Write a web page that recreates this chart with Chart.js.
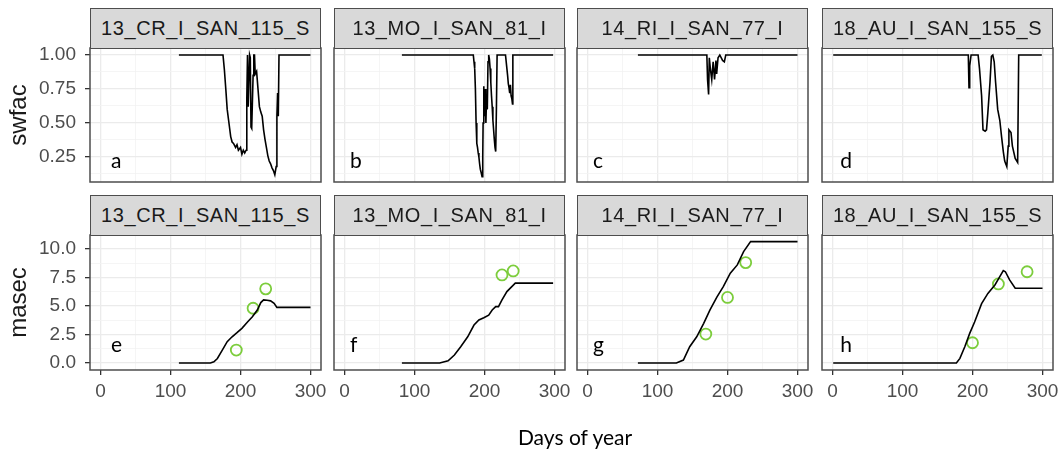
<!DOCTYPE html>
<html>
<head>
<meta charset="utf-8">
<script src="https://cdn.jsdelivr.net/npm/chart.js@4.4.0/dist/chart.umd.min.js"></script>
<style>
html, body { margin: 0; padding: 0; background: #fff; }
#fig { position: relative; width: 1063px; height: 450px; overflow: hidden; background: #fff; }
#fig canvas { position: absolute; z-index: 1; }
.strip { position: absolute; z-index: 2; box-sizing: border-box; height: 41px; background: #d9d9d9;
  border: 1.5px solid #4d4d4d; color: #1a1a1a; font: 20px 'Liberation Sans', Arial, sans-serif;
  text-align: center; line-height: 38px; letter-spacing: 0.6px; white-space: nowrap; }
.xtitle { position: absolute; z-index: 2; left: 475px; top: 424px; width: 200px; text-align: center;
  font: 21px Lato, 'Open Sans', sans-serif; color: #000; }
</style>
</head>
<body>
<div id="fig">
  <div class="xtitle">Days of year</div>
</div>
<script>
const panelNames = ['13_CR_I_SAN_115_S', '13_MO_I_SAN_81_I', '14_RI_I_SAN_77_I', '18_AU_I_SAN_155_S'];
const topLetters = ['a', 'b', 'c', 'd'];
const bottomLetters = ['e', 'f', 'g', 'h'];
const xTickLabels = [0, 100, 200, 300];
const swfacTickLabels = [0.25, 0.5, 0.75, 1];
const masecTickLabels = [0, 2.5, 5, 7.5, 10];

// swfac, top row
const swfacDaysA = [112,175,177,179,181,183,186,188,190,193,195,197,200,202,204,206,208,209,210,211,212,213,214,215,216,218,219,220,221,223,225,227,229,231,233,235,237,239,241,243,245,247,249,251,252,253,254,255,300];
const swfacA = [1,1,0.89,0.75,0.6,0.52,0.4,0.36,0.35,0.32,0.34,0.3,0.32,0.27,0.3,0.28,0.3,0.68,1,0.62,0.62,1,0.98,0.47,0.46,0.85,1,1,0.86,0.88,0.75,0.62,0.58,0.55,0.45,0.38,0.32,0.26,0.22,0.2,0.17,0.15,0.12,0.18,0.55,0.72,0.55,1,1];

const swfacDaysB = [82,184,185,186,187,188,189,190,191,192,193,194,195,196.5,197.5,198,199,200,201,202,203,204,205,206,207,208,209,210,211,212,213,214,215,216,217,218,230,232,233,234,235,236,237,238,239,240,240.5,298];
const swfacB = [1,1,0.95,0.9,0.75,0.5,0.35,0.32,0.28,0.25,0.2,0.16,0.14,0.105,0.25,0.5,0.77,0.55,0.75,0.5,0.7,0.6,0.95,1,0.97,0.9,0.8,0.7,0.62,0.52,0.45,0.38,0.32,0.29,0.6,1,1,0.9,0.85,0.79,0.76,0.72,0.78,0.7,0.68,0.64,1,1];

const swfacDaysC = [72,169,170.5,171.5,173,174,175.5,177.5,179.5,181.5,183.5,184.5,186.5,189,193,195.5,197.5,300];
const swfacC = [1,1,1,0.82,0.71,0.98,0.9,0.82,0.95,0.82,0.96,0.86,0.98,1,0.96,0.95,1,1];

const swfacDaysD = [1,194,195,196,198,208,210,213,215,218,220,222,225,227,229,231,233,236,239,241.5,244,246,249,251,252,255,257,261,264.5,266,299];
const swfacD = [1,1,0.76,0.92,1,1,0.9,0.7,0.45,0.44,0.45,0.58,0.8,0.99,1,0.95,0.8,0.6,0.52,0.4,0.29,0.22,0.18,0.33,0.45,0.43,0.33,0.24,0.21,1,1];

// masec, bottom row (simulated line + observed points)
const masecDaysE = [112,157,162,167,174,181,188,195,202,210,217,224,229,233,238,243,248,252,300];
const masecE = [0,0,0.11,0.4,1.14,1.87,2.3,2.66,3.04,3.6,4.06,4.65,5.3,5.53,5.5,5.45,5.23,4.88,4.88];
const obsDaysE = [194, 218, 236];
const obsE = [1.14, 4.8, 6.5];

const masecDaysF = [82,136,148,157,166,176,185,192,199,206,211,216,220,225,232,239,244,298];
const masecF = [0,0,0.2,0.7,1.43,2.3,3.33,3.77,3.97,4.2,4.65,4.94,4.94,5.53,6.26,6.7,7.0,7.0];
const obsDaysF = [225, 241];
const obsF = [7.72, 8.07];

const masecDaysG = [72,127,137,146,156,166,175,185,194,204,214,223,233,300];
const masecG = [0,0,0.26,1.43,2.3,3.48,4.65,5.8,6.7,7.87,8.6,9.77,10.64,10.64];
const obsDaysG = [169, 200, 226];
const obsG = [2.54, 5.75, 8.8];

const masecDaysH = [1,177,182,189,196,203,213,222,232,239,244,247,253,261,265,300];
const masecH = [0,0,0.41,1.43,2.6,3.6,5.2,6.1,6.84,7.57,8.1,8.0,7.28,6.55,6.55,6.55];
const obsDaysH = [200, 237, 278];
const obsH = [1.78, 6.93, 8.0];

const topSeries = [[swfacDaysA, swfacA], [swfacDaysB, swfacB], [swfacDaysC, swfacC], [swfacDaysD, swfacD]];
const bottomSeries = [
  [masecDaysE, masecE, obsDaysE, obsE],
  [masecDaysF, masecF, obsDaysF, obsF],
  [masecDaysG, masecG, obsDaysG, obsG],
  [masecDaysH, masecH, obsDaysH, obsH]
];

Chart.defaults.font.family = "'Liberation Sans', Arial, sans-serif";

const plotLefts = [90, 334, 577, 822];
const plotW = 231;
const padL = 90, padT = 26, padR = 24, padB = 50;
const letterX = [15, 8, 8, 11];
const rows = [
  { stripTop: 8, plotTop: 48, plotH: 134, ymin: 0.066, ymax: 1.0515, step: 0.125, ticks: swfacTickLabels, digits: 2, title: 'swfac', letterY: 0.17, letters: topLetters, showX: false },
  { stripTop: 195, plotTop: 235, plotH: 135, ymin: -0.61, ymax: 11.22, step: 1.25, ticks: masecTickLabels, digits: 1, title: 'masec', letterY: 1.0, letters: bottomLetters, showX: true }
];

const toXY = (days, vals) => days.map((d, i) => ({ x: d, y: vals[i] }));

const panelBorder = {
  id: 'panelBorder',
  afterDraw(chart) {
    const { ctx, chartArea: a } = chart;
    ctx.save();
    ctx.strokeStyle = '#4d4d4d';
    ctx.lineWidth = 1.5;
    ctx.strokeRect(a.left, a.top, a.right - a.left, a.bottom - a.top);
    ctx.restore();
  }
};

const panelLetter = {
  id: 'panelLetter',
  afterDatasetsDraw(chart, args, opts) {
    const { ctx, scales: { x, y } } = chart;
    ctx.save();
    ctx.font = "21px Lato, 'Open Sans', sans-serif";
    ctx.fillStyle = '#000';
    ctx.textAlign = 'left';
    ctx.textBaseline = 'alphabetic';
    ctx.fillText(opts.text, x.getPixelForValue(opts.x), y.getPixelForValue(opts.y));
    ctx.restore();
  }
};

const fig = document.getElementById('fig');

rows.forEach((row, r) => {
  plotLefts.forEach((left, c) => {
    const strip = document.createElement('div');
    strip.className = 'strip';
    strip.style.left = left + 'px';
    strip.style.top = row.stripTop + 'px';
    strip.style.width = plotW + 'px';
    strip.style.height = (row.plotTop - row.stripTop + 1) + 'px';
    strip.textContent = panelNames[c];
    fig.appendChild(strip);

    const canvas = document.createElement('canvas');
    const w = padL + plotW + padR, h = padT + row.plotH + padB;
    canvas.width = w; canvas.height = h;
    canvas.style.width = w + 'px'; canvas.style.height = h + 'px';
    canvas.style.left = (left - padL) + 'px';
    canvas.style.top = (row.plotTop - padT) + 'px';
    fig.appendChild(canvas);

    const showY = c === 0;
    const datasets = [];
    if (r === 0) {
      const [days, vals] = topSeries[c];
      datasets.push({ data: toXY(days, vals), showLine: true, borderColor: '#000', borderWidth: 1.6, pointRadius: 0, tension: 0 });
    } else {
      const [days, vals, od, ov] = bottomSeries[c];
      datasets.push({ data: toXY(days, vals), showLine: true, borderColor: '#000', borderWidth: 1.6, pointRadius: 0, tension: 0 });
      datasets.push({ data: toXY(od, ov), showLine: false, pointRadius: 5.5, pointBorderWidth: 1.8,
        pointBorderColor: '#7ccd3c', pointBackgroundColor: 'rgba(0,0,0,0)' });
    }

    const xMajor = v => xTickLabels.includes(v);
    const yMajor = v => row.ticks.includes(v);

    new Chart(canvas.getContext('2d'), {
      type: 'scatter',
      data: { datasets },
      options: {
        responsive: false,
        animation: false,
        devicePixelRatio: 1,
        layout: { padding: { left: 0, top: padT, right: padR, bottom: 0 } },
        plugins: {
          legend: { display: false },
          tooltip: { enabled: false },
          panelLetter: { text: row.letters[c], x: letterX[c], y: row.letterY }
        },
        scales: {
          x: {
            type: 'linear', min: -15, max: 315,
            afterFit: s => { s.height = padB; },
            border: { display: false },
            grid: {
              color: ctx => xMajor(ctx.tick.value) ? '#ebebeb' : '#f3f3f3',
              lineWidth: ctx => xMajor(ctx.tick.value) ? 1.3 : 0.8,
              drawTicks: row.showX, tickLength: 5, tickWidth: 1.3,
              tickColor: ctx => xMajor(ctx.tick.value) ? '#333' : 'rgba(0,0,0,0)'
            },
            ticks: {
              display: row.showX, stepSize: 50, includeBounds: false, autoSkip: false, maxRotation: 0,
              padding: 5, color: '#4d4d4d', font: { size: 19 },
              callback: v => xMajor(v) ? String(v) : ''
            }
          },
          y: {
            type: 'linear', min: row.ymin, max: row.ymax,
            afterFit: s => { s.width = padL; },
            border: { display: false },
            title: { display: showY, text: row.title, color: '#1a1a1a', font: { size: 24 }, padding: { top: 5, bottom: 0 } },
            grid: {
              color: ctx => yMajor(ctx.tick.value) ? '#ebebeb' : '#f3f3f3',
              lineWidth: ctx => yMajor(ctx.tick.value) ? 1.3 : 0.8,
              drawTicks: showY, tickLength: 5, tickWidth: 1.3,
              tickColor: ctx => yMajor(ctx.tick.value) ? '#333' : 'rgba(0,0,0,0)'
            },
            ticks: {
              display: showY, stepSize: row.step, includeBounds: false, autoSkip: false,
              padding: 9, color: '#4d4d4d', font: { size: 19 },
              callback: v => yMajor(v) ? v.toFixed(row.digits) : ''
            }
          }
        }
      },
      plugins: [panelBorder, panelLetter]
    });
  });
});
</script>
</body>
</html>
